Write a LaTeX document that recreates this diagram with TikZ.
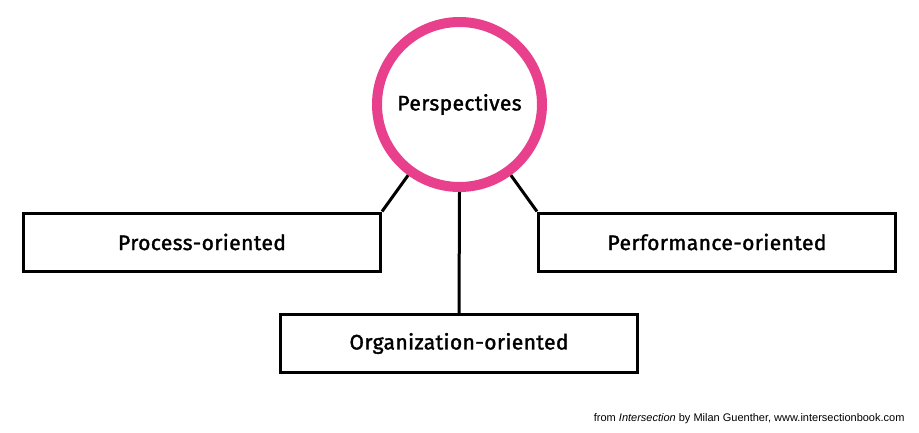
\documentclass[tikz,border=0pt]{standalone}
\usepackage{fontspec}
\setmainfont{Fira Sans}
\newfontfamily\labelfont{Fira Sans}[FakeBold=1.6,LetterSpace=2]
\newfontfamily\creditfont{Liberation Sans}
\usepackage{xcolor}
\usetikzlibrary{calc}
\definecolor{persppink}{RGB}{232,64,140}

\begin{document}
\begin{tikzpicture}[x=1pt,y=-1pt,
  box/.style={draw,line width=3pt,minimum width=357pt,minimum height=58pt,
    font=\labelfont\fontsize{21}{25}\selectfont},
  link/.style={line width=3pt}]
\useasboundingbox[fill=white] (0,0) rectangle (919,432);
\node[circle,draw=persppink,line width=10pt,minimum size=165pt,
  font=\labelfont\fontsize{21}{25}\selectfont] (persp) at (459.5,104.5) {Perspectives};
\node[box] (proc) at (202,242) {Process-oriented};
\node[box] (perf) at (717,242) {Performance-oriented};
\node[box] (org) at (459,343.5) {Organization-oriented};
\draw[link] (persp.234) -- (proc.north east);
\draw[link] (persp.306) -- (perf.north west);
\draw[link] (persp.south) -- (org.north);
\node[anchor=base east,font=\creditfont\fontsize{11}{13}\selectfont] (credit) at (908,421)
  {from \textit{Intersection} by Milan Guenther, www.intersectionbook.com};
\end{tikzpicture}
\end{document}
